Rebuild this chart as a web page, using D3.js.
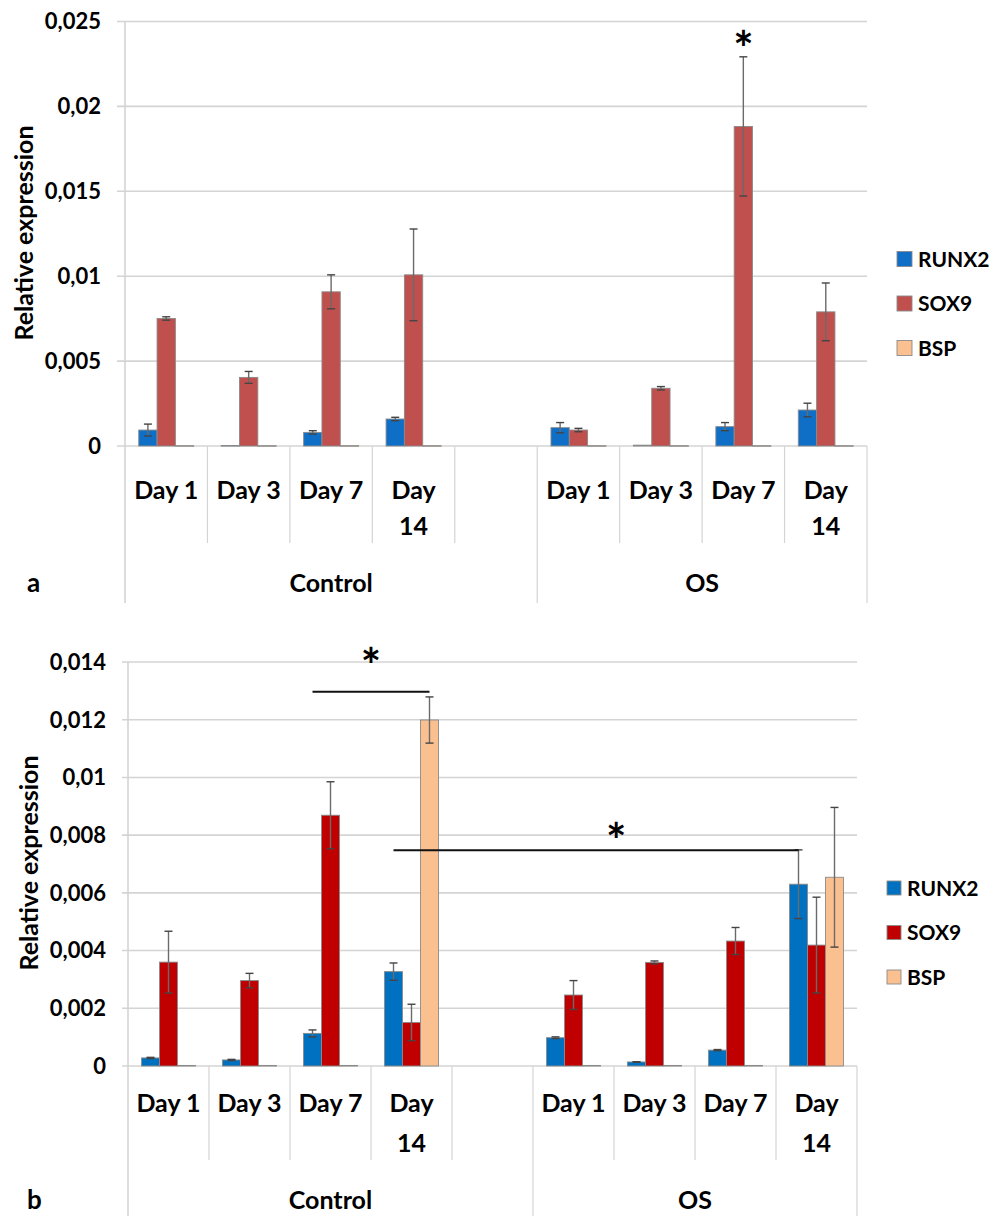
<!DOCTYPE html>
<html>
<head>
<meta charset="utf-8">
<script src="https://cdn.jsdelivr.net/npm/d3@7"></script>
<style>
  html, body { margin: 0; padding: 0; background: #fff; }
  svg { display: block; }
  text { font-family: Lato, "Open Sans", sans-serif; font-weight: 700; fill: #000; }
</style>
</head>
<body>
<svg id="chart" width="1003" height="1216"></svg>
<script>
// ---------------- data ----------------
const conditions = ["Control", "OS"];
const dayLabels = ["Day 1", "Day 3", "Day 7", "Day 14"];
const genes = ["RUNX2", "SOX9", "BSP"];

// panel a (order: Control D1,D3,D7,D14, OS D1,D3,D7,D14)
const aRunx2    = [0.00094, 0.00003, 0.00080, 0.00159, 0.00108, 0.00005, 0.00114, 0.00212];
const aRunx2Err = [0.00035, 0.00000, 0.00010, 0.00010, 0.00030, 0.00000, 0.00024, 0.00040];
const aSox9     = [0.00751, 0.00404, 0.00908, 0.01008, 0.00094, 0.00340, 0.01882, 0.00790];
const aSox9Err  = [0.00010, 0.00035, 0.00100, 0.00270, 0.00010, 0.00010, 0.00410, 0.00170];
const aBsp      = [0.00002, 0.00002, 0.00002, 0.00002, 0.00002, 0.00002, 0.00002, 0.00002];
const aBspErr   = [0, 0, 0, 0, 0, 0, 0, 0];
const aTicks      = [0, 0.005, 0.01, 0.015, 0.02, 0.025];
const aTickLabels = ["0", "0,005", "0,01", "0,015", "0,02", "0,025"];

// panel b
const bRunx2    = [0.00028, 0.00021, 0.00113, 0.00327, 0.00098, 0.00014, 0.00055, 0.00630];
const bRunx2Err = [0.00002, 0.00002, 0.00012, 0.00030, 0.00003, 0.00001, 0.00002, 0.00119];
const bSox9     = [0.00360, 0.00296, 0.00869, 0.00151, 0.00246, 0.00359, 0.00433, 0.00419];
const bSox9Err  = [0.00107, 0.00025, 0.00116, 0.00063, 0.00050, 0.00005, 0.00047, 0.00166];
const bBsp      = [0.00002, 0.00002, 0.00002, 0.01199, 0.00002, 0.00002, 0.00002, 0.00654];
const bBspErr   = [0, 0, 0, 0.00080, 0, 0, 0, 0.00242];
const bTicks      = [0, 0.002, 0.004, 0.006, 0.008, 0.01, 0.012, 0.014];
const bTickLabels = ["0", "0,002", "0,004", "0,006", "0,008", "0,01", "0,012", "0,014"];

// significance marks
const aStars = [{cond: "OS", day: "Day 7", gene: "SOX9", starLevel: 0.02394}];
const bBrackets = [
  {from: ["Control", "Day 7", "RUNX2"], to: ["Control", "Day 14", "BSP"], level: 0.01297, starLevel: 0.01418, frac: 0.5},
  {from: ["Control", "Day 14", "RUNX2"], to: ["OS", "Day 14", "RUNX2"], level: 0.00748, starLevel: 0.00811, frac: 0.55}
];

// ---------------- drawing ----------------
const svg = d3.select("#chart");

function buildRows(r, re, s, se, b, be) {
  const rows = [];
  conditions.forEach((c, ci) => dayLabels.forEach((d, di) => {
    const i = ci * 4 + di;
    rows.push({cond: c, day: d, key: c + "|" + d,
      vals: [{gene: "RUNX2", v: r[i], e: re[i]}, {gene: "SOX9", v: s[i], e: se[i]}, {gene: "BSP", v: b[i], e: be[i]}]});
  }));
  return rows;
}

function panel(cfg) {
  const g = svg.append("g");
  const slotKeys = [];
  dayLabels.forEach(d => slotKeys.push("Control|" + d));
  slotKeys.push("Control|");
  dayLabels.forEach(d => slotKeys.push("OS|" + d));

  const x0 = d3.scaleBand().domain(slotKeys).range([cfg.left, cfg.right]).paddingInner(0).paddingOuter(0);
  const x1 = d3.scaleBand().domain(genes).range([0, x0.bandwidth()]).paddingInner(0).paddingOuter(0.75);
  const y = d3.scaleLinear().domain([0, cfg.ticks[cfg.ticks.length - 1]]).range([cfg.y0, cfg.yTop]);
  const color = d3.scaleOrdinal().domain(genes).range(cfg.colors);

  // gridlines
  g.append("g").selectAll("line").data(cfg.ticks).join("line")
    .attr("x1", cfg.left - cfg.tickLen).attr("x2", cfg.right)
    .attr("y1", d => y(d)).attr("y2", d => y(d))
    .attr("stroke", "#d4d4d4").attr("stroke-width", 1.6);
  // left axis line
  g.append("line").attr("x1", cfg.left).attr("x2", cfg.left)
    .attr("y1", cfg.yTop).attr("y2", cfg.outerBottom)
    .attr("stroke", "#d4d4d4").attr("stroke-width", 1.6);

  // tick labels
  g.append("g").selectAll("text").data(cfg.ticks).join("text")
    .attr("x", cfg.labelRight).attr("y", d => y(d)).attr("dy", "0.36em")
    .attr("text-anchor", "end").attr("font-size", cfg.tickFont)
    .text((d, i) => cfg.tickLabels[i]);

  // axis title
  g.append("text")
    .attr("transform", `translate(${cfg.titleX},${cfg.titleY}) rotate(-90)`)
    .attr("text-anchor", "middle").attr("dy", "0.36em").attr("font-size", cfg.titleFont)
    .text("Relative expression");

  // separators
  slotKeys.forEach((k, i) => {
    if (i === 0) return;
    const xx = x0(k);
    const outer = k === "OS|" + dayLabels[0];
    g.append("line").attr("x1", xx).attr("x2", xx)
      .attr("y1", cfg.y0).attr("y2", outer ? cfg.outerBottom : cfg.innerBottom)
      .attr("stroke", "#d4d4d4").attr("stroke-width", 1.2);
  });
  g.append("line").attr("x1", cfg.right).attr("x2", cfg.right)
    .attr("y1", cfg.y0).attr("y2", cfg.outerBottom)
    .attr("stroke", "#d4d4d4").attr("stroke-width", 1.2);

  // bars
  const grp = g.append("g").selectAll("g").data(cfg.rows).join("g")
    .attr("transform", d => `translate(${x0(d.key)},0)`);
  grp.selectAll("rect").data(d => d.vals).join("rect")
    .attr("x", d => x1(d.gene)).attr("width", x1.bandwidth())
    .attr("y", d => y(d.v)).attr("height", d => Math.max(0.6, cfg.y0 - y(d.v)))
    .attr("fill", d => color(d.gene)).attr("stroke", "#8a8a8a").attr("stroke-width", 0.9);
  // error bars
  const eb = grp.selectAll("g.eb").data(d => d.vals.filter(v => v.e > 0)).join("g").attr("class", "eb");
  eb.append("line")
    .attr("x1", d => x1(d.gene) + x1.bandwidth() / 2).attr("x2", d => x1(d.gene) + x1.bandwidth() / 2)
    .attr("y1", d => y(d.v - d.e)).attr("y2", d => y(d.v + d.e))
    .attr("stroke", "#6a6a6a").attr("stroke-width", 1.4);
  [-1, 1].forEach(sgn => {
    eb.append("line")
      .attr("x1", d => x1(d.gene) + x1.bandwidth() / 2 - 4).attr("x2", d => x1(d.gene) + x1.bandwidth() / 2 + 4)
      .attr("y1", d => y(d.v + sgn * d.e)).attr("y2", d => y(d.v + sgn * d.e))
      .attr("stroke", "#444").attr("stroke-width", 1.4);
  });

  // day labels
  slotKeys.forEach(k => {
    const day = k.split("|")[1];
    if (!day) return;
    const cx = x0(k) + x0.bandwidth() / 2;
    const t = g.append("text").attr("x", cx).attr("y", cfg.dayY)
      .attr("text-anchor", "middle").attr("font-size", cfg.dayFont).text(day);
    if (t.node().getComputedTextLength() > x0.bandwidth() - 8) {
      const parts = day.split(" ");
      t.text(null);
      parts.forEach((p, i) => t.append("tspan").attr("x", cx).attr("y", cfg.dayY + i * cfg.dayLine).text(p));
    }
  });

  // condition labels
  conditions.forEach(c => {
    const ks = slotKeys.filter(k => k.startsWith(c + "|"));
    const a = x0(ks[0]), b = x0(ks[ks.length - 1]) + x0.bandwidth();
    g.append("text").attr("x", (a + b) / 2).attr("y", cfg.condY)
      .attr("text-anchor", "middle").attr("font-size", cfg.dayFont).text(c);
  });

  // panel letter
  g.append("text").attr("x", cfg.letterX).attr("y", cfg.condY)
    .attr("font-size", cfg.letterFont).text(cfg.letter);

  // legend
  const lg = g.append("g").attr("transform", `translate(${cfg.legX},${cfg.legY})`);
  genes.forEach((gn, i) => {
    const row = lg.append("g").attr("transform", `translate(0,${i * cfg.legStep})`);
    row.append("rect").attr("x", 0).attr("y", -cfg.legSq / 2).attr("width", cfg.legSq).attr("height", cfg.legSq)
      .attr("fill", color(gn)).attr("stroke", "#8a8a8a").attr("stroke-width", 0.9);
    row.append("text").attr("x", cfg.legSq + 6).attr("y", 0).attr("dy", "0.36em")
      .attr("font-size", cfg.legFont).text(gn);
  });

  return {x0, x1, y, g};
}

function barCenter(P, cond, day, gene) {
  return P.x0(cond + "|" + day) + P.x1(gene) + P.x1.bandwidth() / 2;
}

function star(P, x, yCenter) {
  // glyph centre of the DejaVu Bold asterisk sits ~0.55em above the baseline
  P.g.append("text").attr("x", x).attr("y", yCenter + 48 * 0.55)
    .attr("text-anchor", "middle").attr("font-size", 48).attr("font-family", "DejaVu Sans")
    .attr("font-weight", 700).text("*");
}

// panel a
const A = panel({
  rows: buildRows(aRunx2, aRunx2Err, aSox9, aSox9Err, aBsp, aBspErr),
  left: 125, right: 867, y0: 446, yTop: 21.5, ticks: aTicks, tickLabels: aTickLabels,
  tickLen: 8, labelRight: 101, tickFont: 22, titleX: 24, titleY: 233, titleFont: 25,
  colors: ["#0f6fc6", "#c0504d", "#fac08f"],
  innerBottom: 543, outerBottom: 603, dayY: 499, dayLine: 36, dayFont: 25, condY: 592,
  letter: "a", letterX: 27, letterFont: 26,
  legX: 897, legY: 259, legStep: 44.5, legSq: 15, legFont: 21
});
aStars.forEach(s => star(A, barCenter(A, s.cond, s.day, s.gene), A.y(s.starLevel)));

// panel b
const B = panel({
  rows: buildRows(bRunx2, bRunx2Err, bSox9, bSox9Err, bBsp, bBspErr),
  left: 128, right: 857, y0: 1066, yTop: 662, ticks: bTicks, tickLabels: bTickLabels,
  tickLen: 6, labelRight: 106, tickFont: 22, titleX: 28.5, titleY: 863, titleFont: 25,
  colors: ["#0070c0", "#c00000", "#fac090"],
  innerBottom: 1160, outerBottom: 1216, dayY: 1112, dayLine: 40, dayFont: 25, condY: 1209,
  letter: "b", letterX: 27, letterFont: 26,
  legX: 887, legY: 888, legStep: 44.5, legSq: 14, legFont: 21
});
bBrackets.forEach(br => {
  const xa = barCenter(B, br.from[0], br.from[1], br.from[2]);
  const xb = barCenter(B, br.to[0], br.to[1], br.to[2]);
  const yy = B.y(br.level);
  B.g.append("line").attr("x1", xa).attr("x2", xb).attr("y1", yy).attr("y2", yy)
    .attr("stroke", "#111").attr("stroke-width", 2);
  star(B, xa + (xb - xa) * br.frac, B.y(br.starLevel));
});
</script>
</body>
</html>
